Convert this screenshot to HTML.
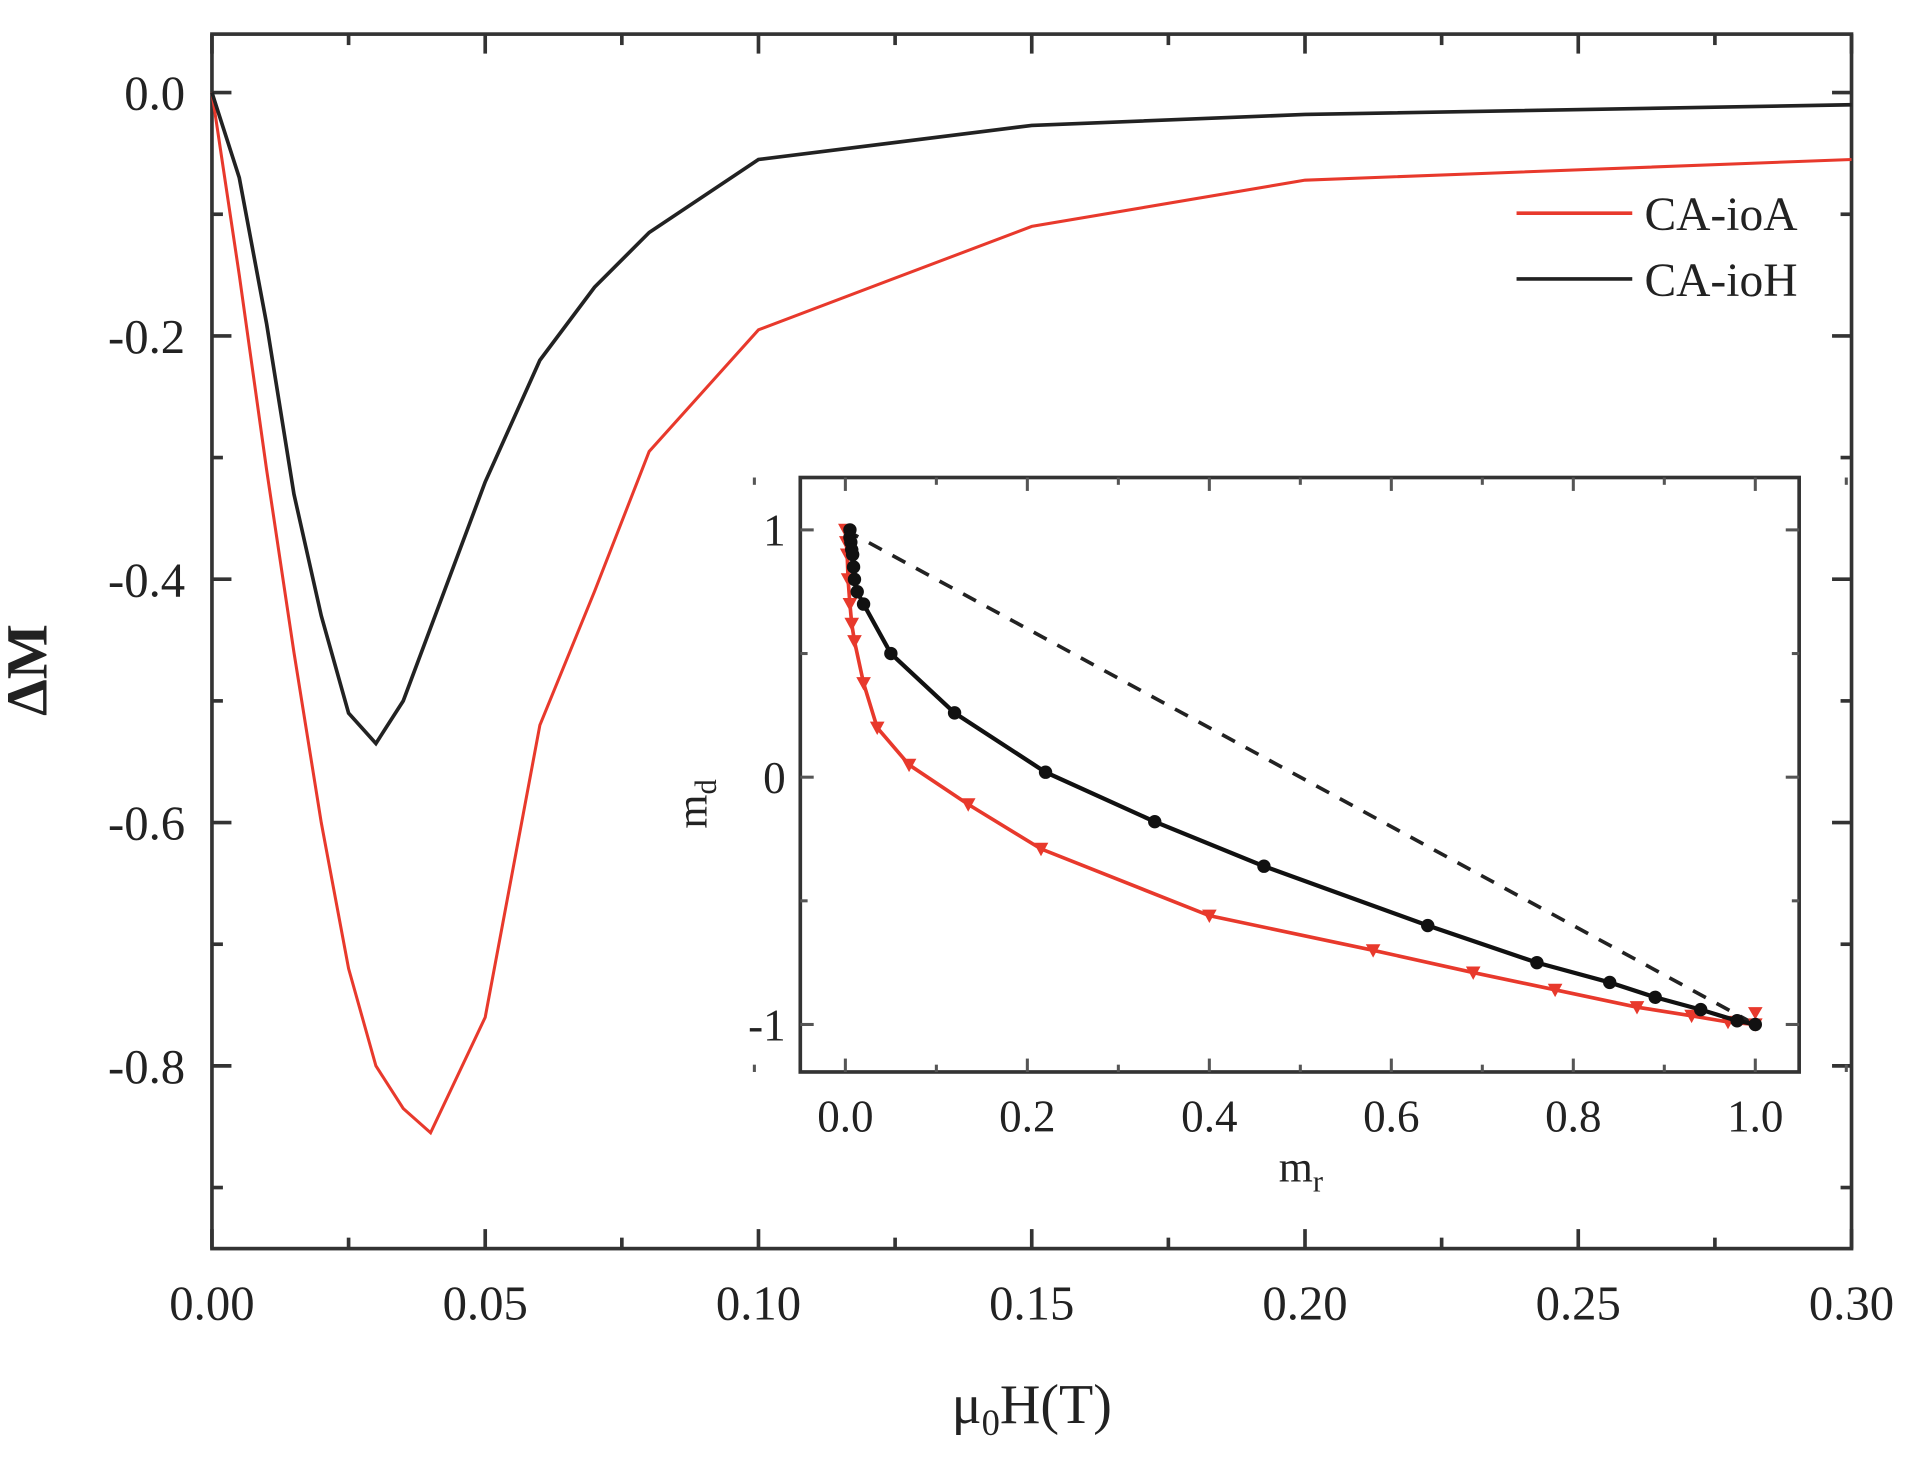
<!DOCTYPE html>
<html><head><meta charset="utf-8"><style>html,body{margin:0;padding:0;background:#fff}svg{display:block}text{font-family:"Liberation Serif",serif;fill:#222}</style></head>
<body>
<svg id="s" width="1910" height="1463" viewBox="0 0 1568 1201" preserveAspectRatio="none" xmlns="http://www.w3.org/2000/svg">
<rect x="174" y="28" width="1346" height="997" fill="none" stroke="#333" stroke-width="3"/>
<g id="g"></g>
<text x="38" y="550" font-size="48" font-weight="bold" text-anchor="middle" transform="rotate(-90 38 550)">ΔM</text>
<text x="847" y="1168" font-size="46" text-anchor="middle">μ<tspan font-size="30" dy="10">0</tspan><tspan dy="-10">H(T)</tspan></text>
<line x1="1245" y1="175" x2="1340" y2="175" stroke="#e8392c" stroke-width="3"/>
<line x1="1245" y1="229" x2="1340" y2="229" stroke="#222" stroke-width="3"/>
<text x="1350" y="189" font-size="39">CA-ioA</text>
<text x="1350" y="243" font-size="39">CA-ioH</text>
<rect x="657" y="392" width="820" height="488" fill="#fff" stroke="#333" stroke-width="3"/>
<g id="h"></g>
<text x="580" y="660" font-size="36" text-anchor="middle" transform="rotate(-90 580 660)">m<tspan font-size="25" dy="8">d</tspan></text>
<text x="1068" y="970" font-size="36" text-anchor="middle">m<tspan font-size="25" dy="8">r</tspan></text>
</svg>
<script>
const NS="http://www.w3.org/2000/svg",g=document.getElementById('g'),h=document.getElementById('h');
function el(p,t,a,txt){const e=document.createElementNS(NS,t);for(const k in a)e.setAttribute(k,a[k]);if(txt!==undefined)e.textContent=txt;p.appendChild(e);return e;}
const X=v=>174+v/0.3*1346, Y=v=>76-v*998.75;
for(let i=0;i<=12;i++){const v=i*0.025,x=X(v),L=i%2?9:16;
 el(g,'line',{x1:x,y1:1025,x2:x,y2:1025-L,stroke:'#333','stroke-width':3});
 el(g,'line',{x1:x,y1:28,x2:x,y2:28+L,stroke:'#333','stroke-width':3});
 if(i%2==0)el(g,'text',{x:x,y:1083,'font-size':40,'text-anchor':'middle'},v.toFixed(2));}
for(let i=-9;i<=0;i++){const v=i*0.1,y=Y(v),L=i%2?9:16;
 el(g,'line',{x1:174,y1:y,x2:174+L,y2:y,stroke:'#333','stroke-width':3});
 el(g,'line',{x1:1520,y1:y,x2:1520-L,y2:y,stroke:'#333','stroke-width':3});
 if(i%2==0&&i>=-8)el(g,'text',{x:152,y:y+14,'font-size':40,'text-anchor':'end'},v.toFixed(1));}
const blk=[[0,0],[0.005,-0.07],[0.01,-0.19],[0.015,-0.33],[0.02,-0.43],[0.025,-0.51],[0.03,-0.535],[0.035,-0.50],[0.04,-0.44],[0.05,-0.32],[0.06,-0.22],[0.07,-0.16],[0.08,-0.115],[0.1,-0.055],[0.15,-0.027],[0.2,-0.018],[0.3,-0.01]];
const red=[[0,0],[0.005,-0.15],[0.01,-0.31],[0.015,-0.46],[0.02,-0.6],[0.025,-0.72],[0.03,-0.80],[0.035,-0.835],[0.04,-0.855],[0.05,-0.76],[0.06,-0.52],[0.07,-0.41],[0.08,-0.295],[0.1,-0.195],[0.15,-0.11],[0.2,-0.072],[0.3,-0.055]];
el(g,'polyline',{points:red.map(p=>X(p[0])+','+Y(p[1])).join(' '),fill:'none',stroke:'#e8392c','stroke-width':2.5});
el(g,'polyline',{points:blk.map(p=>X(p[0])+','+Y(p[1])).join(' '),fill:'none',stroke:'#222','stroke-width':3});
const IX=v=>694+v*747, IY=v=>638-v*203;
for(let i=-1;i<=11;i++){const v=i*0.1,x=IX(v),L=i%2?6:11;
 el(h,'line',{x1:x,y1:880,x2:x,y2:880-L,stroke:'#555','stroke-width':2.5});
 el(h,'line',{x1:x,y1:392,x2:x,y2:392+L,stroke:'#555','stroke-width':2.5});
 if(i%2==0&&i>=0&&i<=10)el(h,'text',{x:x,y:929,'font-size':37,'text-anchor':'middle'},v.toFixed(1));}
for(let i=-2;i<=2;i++){const v=i*0.5,y=IY(v),L=i%2?6:11;
 el(h,'line',{x1:657,y1:y,x2:657+L,y2:y,stroke:'#555','stroke-width':2.5});
 el(h,'line',{x1:1477,y1:y,x2:1477-L,y2:y,stroke:'#555','stroke-width':2.5});
 if(i%2==0)el(h,'text',{x:645,y:y+13,'font-size':37,'text-anchor':'end'},String(v));}
el(h,'line',{x1:IX(0),y1:IY(1),x2:IX(1),y2:IY(-1),stroke:'#222','stroke-width':3,'stroke-dasharray':'12,10'});
const ib=[[0.005,1],[0.005,0.97],[0.006,0.95],[0.007,0.92],[0.008,0.9],[0.009,0.85],[0.01,0.8],[0.013,0.75],[0.02,0.7],[0.05,0.5],[0.12,0.26],[0.22,0.02],[0.34,-0.18],[0.46,-0.36],[0.64,-0.6],[0.76,-0.75],[0.84,-0.83],[0.89,-0.89],[0.94,-0.94],[0.98,-0.985],[1.0,-1]];
const ir=[[0,1],[0.001,0.95],[0.002,0.9],[0.003,0.8],[0.005,0.7],[0.007,0.62],[0.01,0.55],[0.02,0.38],[0.035,0.2],[0.07,0.05],[0.135,-0.11],[0.215,-0.29],[0.4,-0.56],[0.58,-0.70],[0.69,-0.79],[0.78,-0.86],[0.87,-0.93],[0.93,-0.965],[0.97,-0.99],[1.0,-1]];
el(h,'polyline',{points:ir.map(p=>IX(p[0])+','+IY(p[1])).join(' '),fill:'none',stroke:'#e8392c','stroke-width':3});
ir.forEach(p=>{const x=IX(p[0]),y=IY(p[1]);el(h,'polygon',{points:`${x-6},${y-5} ${x+6},${y-5} ${x},${y+6}`,fill:'#e8392c'});});
el(h,'polygon',{points:`${IX(1)-6},${IY(-0.93)} ${IX(1)+6},${IY(-0.93)} ${IX(1)},${IY(-0.98)}`,fill:'#e8392c'});
el(h,'polyline',{points:ib.map(p=>IX(p[0])+','+IY(p[1])).join(' '),fill:'none',stroke:'#111','stroke-width':3.5});
ib.forEach(p=>{el(h,'circle',{cx:IX(p[0]),cy:IY(p[1]),r:5.5,fill:'#111'});});
</script>
</body></html>
